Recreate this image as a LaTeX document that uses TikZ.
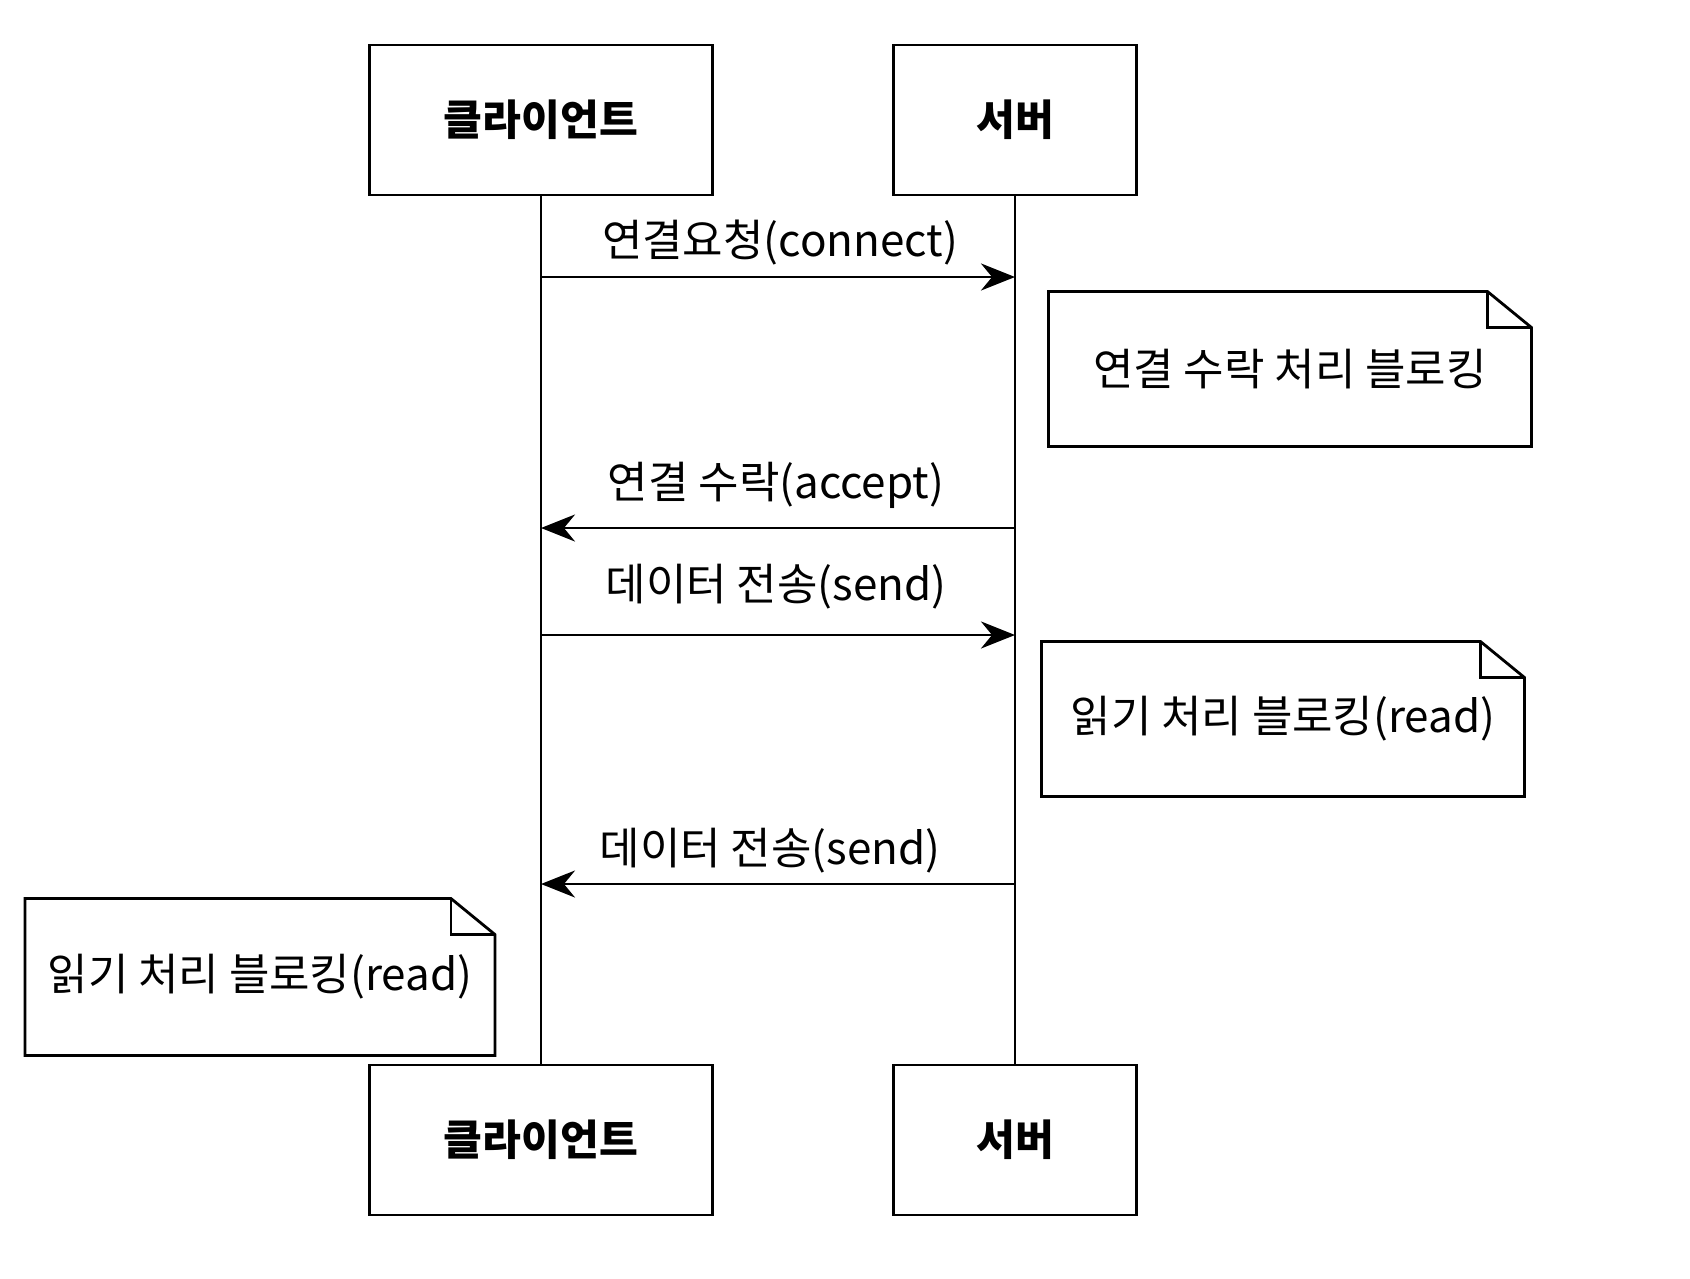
\documentclass[tikz,border=0pt]{standalone}
\usepackage{fontspec}
\setmainfont{Noto Sans CJK KR}
\usetikzlibrary{arrows.meta}
\begin{document}
\begin{tikzpicture}[x=0.01cm,y=-0.01cm,line width=0.8pt,
    box/.style={draw,minimum width=3.43cm,minimum height=1.5cm,font=\fontsize{12}{14}\selectfont\bfseries},
    sbox/.style={box,minimum width=2.43cm},
    note/.style={minimum width=4.8cm,minimum height=1.52cm,font=\fontsize{12.5}{15}\selectfont},
    msg/.style={-{Stealth[length=0.34cm,width=0.27cm]}},
    lbl/.style={font=\fontsize{12.5}{15}\selectfont}]
  \useasboundingbox (0,0) rectangle (1690,1278);
  % participants
  \node[box] (ctop) at (541,120) {클라이언트};
  \node[sbox] (stop) at (1015,120) {서버};
  \node[box] (cbot) at (541,1140) {클라이언트};
  \node[sbox] (sbot) at (1015,1140) {서버};
  \draw (ctop) -- (cbot); \draw (stop) -- (sbot);
  % messages
  \draw[msg] (ctop |- 0,277) -- (stop |- 0,277);
  \node[lbl] (m1) at (780,243) {연결요청(connect)};
  \draw[msg] (stop |- 0,528) -- (ctop |- 0,528);
  \node[lbl] (m2) at (776,485) {연결 수락(accept)};
  \draw[msg] (ctop |- 0,635) -- (stop |- 0,635);
  \node[lbl] (m3) at (776,587) {데이터 전송(send)};
  \draw[msg] (stop |- 0,884) -- (ctop |- 0,884);
  \node[lbl] (m4) at (770,851) {데이터 전송(send)};
  % notes
  \node[note] (n1) at (1290,369) {연결 수락 처리 블로킹};
  \node[note] (n2) at (1283,719) {읽기 처리 블로킹(read)};
  \node[note,minimum width=4.67cm,minimum height=1.54cm] (n3) at (260,977) {읽기 처리 블로킹(read)};
  \foreach \n in {n1,n2,n3} {
    \draw (\n.north west) -- ([xshift=-4.4mm]\n.north east) -- ([yshift=-3.6mm]\n.north east)
      -- (\n.south east) -- (\n.south west) -- cycle;
    \draw ([xshift=-4.4mm]\n.north east) |- ([yshift=-3.6mm]\n.north east);
  }
\end{tikzpicture}
\end{document}
